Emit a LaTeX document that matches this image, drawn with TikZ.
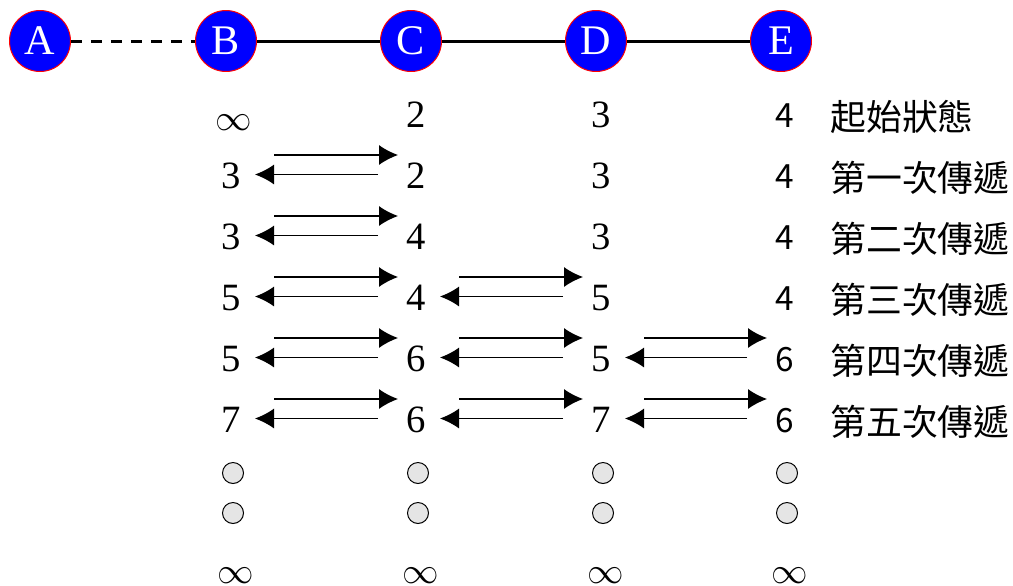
\documentclass[tikz,border=0pt]{standalone}
\usepackage{fontspec}
\setmainfont{Liberation Serif}
\newfontfamily\cjk{Noto Sans CJK TC}
\usetikzlibrary{arrows.meta}

\tikzset{
  router/.style={circle, draw=red, fill=blue, text=white, line width=0.02cm,
    minimum size=1.22cm, inner sep=0pt, font=\fontsize{24}{24}\selectfont},
  dist/.style={anchor=base, inner sep=0pt, font=\fontsize{22}{22}\selectfont},
  distsans/.style={anchor=base, inner sep=0pt, font=\cjk\fontsize{19}{19}\selectfont},
  inf/.style={anchor=base, inner sep=0pt, font=\fontsize{20.74}{20.74}\selectfont},
  stage/.style={anchor=base west, inner sep=0pt, font=\cjk\fontsize{20.4}{20.4}\selectfont},
  link/.style={line width=0.06cm},
  pass/.style={line width=0.025cm, -{Latex[length=0.38cm,width=0.4cm]}},
  more/.style={draw=black, fill=gray!20, line width=0.02cm},
}

\begin{document}
\begin{tikzpicture}[x=0.02cm, y=-0.02cm]
    \useasboundingbox (0,0) rectangle (1013,585);

    % Routers
    \node[router] (A) at (40,41)  {A};
    \node[router] (B) at (226,41) {B};
    \node[router] (C) at (411,41) {C};
    \node[router] (D) at (596,41) {D};
    \node[router] (E) at (781,41) {E};

    \draw[link, dash pattern=on 0.22cm off 0.18cm] (A) -- (B);
    \draw[link] (B) -- (C);
    \draw[link] (C) -- (D);
    \draw[link] (D) -- (E);

    % Distances, one row per exchange
    \node[inf]      (b0) at (234,130) {$\infty$};
    \node[dist]     (c0) at (416,127) {2};
    \node[dist]     (d0) at (601,127) {3};
    \node[distsans] (e0) at (785,127) {4};
    \node[stage]    (s0) at (830,130) {起始狀態};

    \node[dist]     (b1) at (231,188) {3};
    \node[dist]     (c1) at (416,188) {2};
    \node[dist]     (d1) at (601,188) {3};
    \node[distsans] (e1) at (785,188) {4};
    \node[stage]    (s1) at (830,191) {第一次傳遞};

    \node[dist]     (b2) at (231,249) {3};
    \node[dist]     (c2) at (416,249) {4};
    \node[dist]     (d2) at (601,249) {3};
    \node[distsans] (e2) at (785,249) {4};
    \node[stage]    (s2) at (830,252) {第二次傳遞};

    \node[dist]     (b3) at (231,310) {5};
    \node[dist]     (c3) at (416,310) {4};
    \node[dist]     (d3) at (601,310) {5};
    \node[distsans] (e3) at (785,310) {4};
    \node[stage]    (s3) at (830,313) {第三次傳遞};

    \node[dist]     (b4) at (231,371) {5};
    \node[dist]     (c4) at (416,371) {6};
    \node[dist]     (d4) at (601,371) {5};
    \node[distsans] (e4) at (785,371) {6};
    \node[stage]    (s4) at (830,374) {第四次傳遞};

    \node[dist]     (b5) at (231,432) {7};
    \node[dist]     (c5) at (416,432) {6};
    \node[dist]     (d5) at (601,432) {7};
    \node[distsans] (e5) at (785,432) {6};
    \node[stage]    (s5) at (830,435) {第五次傳遞};

    % Exchanges
    \draw[pass] ([shift={(43,-33)}]b1.base) -- ([shift={(-18,-33)}]c1.base);
    \draw[pass] ([shift={(-38,-13.5)}]c1.base) -- ([shift={(24,-13.5)}]b1.base);

    \draw[pass] ([shift={(43,-33)}]b2.base) -- ([shift={(-18,-33)}]c2.base);
    \draw[pass] ([shift={(-38,-13.5)}]c2.base) -- ([shift={(24,-13.5)}]b2.base);

    \draw[pass] ([shift={(43,-33)}]b3.base) -- ([shift={(-18,-33)}]c3.base);
    \draw[pass] ([shift={(-38,-13.5)}]c3.base) -- ([shift={(24,-13.5)}]b3.base);
    \draw[pass] ([shift={(43,-33)}]c3.base) -- ([shift={(-18,-33)}]d3.base);
    \draw[pass] ([shift={(-38,-13.5)}]d3.base) -- ([shift={(24,-13.5)}]c3.base);

    \draw[pass] ([shift={(43,-33)}]b4.base) -- ([shift={(-18,-33)}]c4.base);
    \draw[pass] ([shift={(-38,-13.5)}]c4.base) -- ([shift={(24,-13.5)}]b4.base);
    \draw[pass] ([shift={(43,-33)}]c4.base) -- ([shift={(-18,-33)}]d4.base);
    \draw[pass] ([shift={(-38,-13.5)}]d4.base) -- ([shift={(24,-13.5)}]c4.base);
    \draw[pass] ([shift={(43,-33)}]d4.base) -- ([shift={(-18,-33)}]e4.base);
    \draw[pass] ([shift={(-38,-13.5)}]e4.base) -- ([shift={(24,-13.5)}]d4.base);

    \draw[pass] ([shift={(43,-33)}]b5.base) -- ([shift={(-18,-33)}]c5.base);
    \draw[pass] ([shift={(-38,-13.5)}]c5.base) -- ([shift={(24,-13.5)}]b5.base);
    \draw[pass] ([shift={(43,-33)}]c5.base) -- ([shift={(-18,-33)}]d5.base);
    \draw[pass] ([shift={(-38,-13.5)}]d5.base) -- ([shift={(24,-13.5)}]c5.base);
    \draw[pass] ([shift={(43,-33)}]d5.base) -- ([shift={(-18,-33)}]e5.base);
    \draw[pass] ([shift={(-38,-13.5)}]e5.base) -- ([shift={(24,-13.5)}]d5.base);

    % And so on
    \draw[more] (233,473) circle (0.21cm);
    \draw[more] (418,473) circle (0.21cm);
    \draw[more] (603,473) circle (0.21cm);
    \draw[more] (787,473) circle (0.21cm);
    \draw[more] (233,513) circle (0.21cm);
    \draw[more] (418,513) circle (0.21cm);
    \draw[more] (603,513) circle (0.21cm);
    \draw[more] (787,513) circle (0.21cm);

    \node[inf] (bz) at (236,583) {$\infty$};
    \node[inf] (cz) at (421,583) {$\infty$};
    \node[inf] (dz) at (606,583) {$\infty$};
    \node[inf] (ez) at (790,583) {$\infty$};
\end{tikzpicture}
\end{document}
